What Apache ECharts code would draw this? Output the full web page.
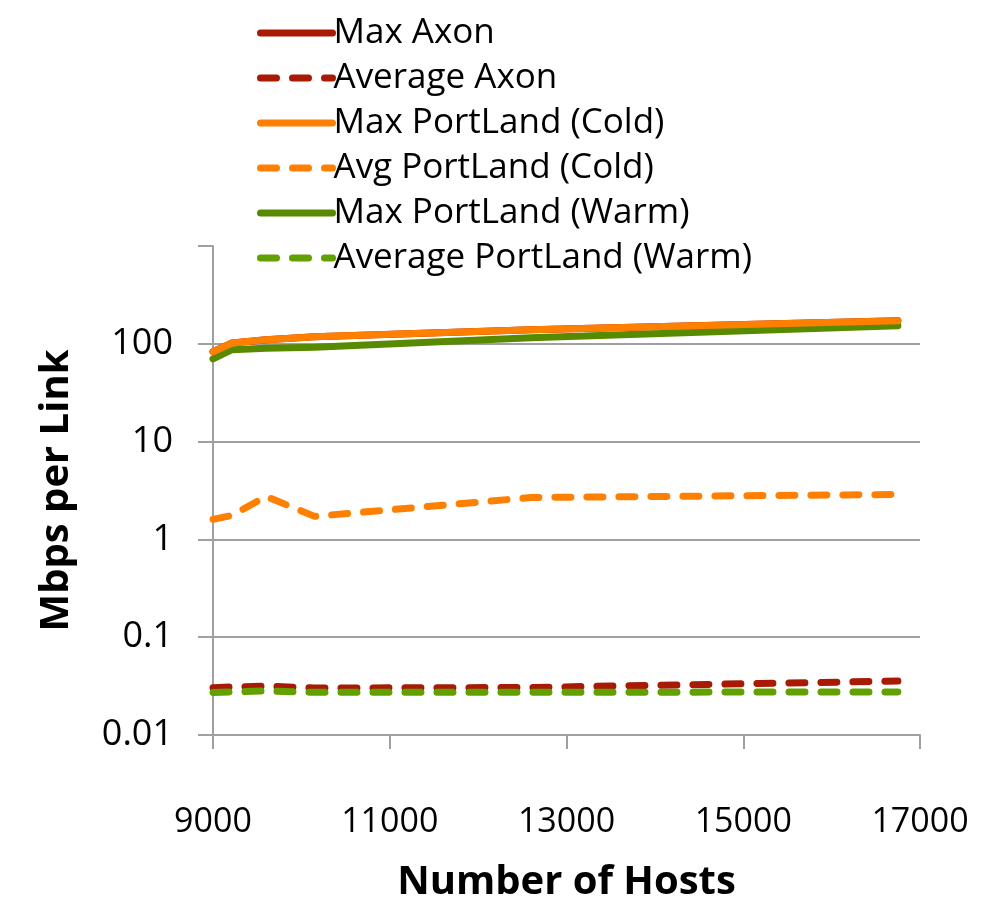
<!DOCTYPE html>
<html>
<head>
<meta charset="utf-8">
<script src="https://cdn.jsdelivr.net/npm/echarts@6/dist/echarts.min.js"></script>
<style>
  html, body { margin: 0; padding: 0; background: #fff; }
  #chart { width: 998px; height: 908px; }
</style>
</head>
<body>
<div id="chart"></div>
<script>
    // number of hosts (x positions of the points)
    let hosts = [9000, 9216, 9600, 10150, 12600, 16750]
    let maxAxon = [83, 102, 110, 118, 139, 172]
    let avgAxon = [0.0305, 0.031, 0.0316, 0.0302, 0.0306, 0.0356]
    let maxCold = [83, 102, 110, 118, 139, 172]
    let avgCold = [1.6, 1.76, 2.75, 1.72, 2.68, 2.88]
    let maxWarm = [70, 87, 90, 92, 115, 153]
    let avgWarm = [0.0272, 0.0276, 0.0282, 0.0273, 0.0273, 0.0276]
    let yTicks = [0.01, 0.1, 1, 10, 100]

    let font = '"Open Sans", "Noto Sans", sans-serif'
    let grey = '#a0a0a0'

    function pairs(vals) {
        let out = []
        for (let i = 0; i < hosts.length; i++) {
            out.push([hosts[i], vals[i]])
        }
        return out
    }

    function line(name, vals, color, dashed) {
        return {
            name: name,
            type: 'line',
            symbol: 'none',
            data: pairs(vals),
            lineStyle: {
                color: color,
                width: 7,
                type: dashed ? [16, 16] : 'solid',
                cap: 'round',
                join: 'round'
            },
            itemStyle: { color: color }
        }
    }

    let chart = echarts.init(document.getElementById('chart'))
    const option = {
        animation: false,
        backgroundColor: '#fff',
        textStyle: { fontFamily: font },
        legend: {
            orient: 'vertical',
            left: 252,
            top: 8,
            itemWidth: 72,
            itemHeight: 14,
            itemGap: 5,
            itemStyle: { opacity: 0 },
            lineStyle: { width: 7, cap: 'round' },
            textStyle: { fontSize: 35, color: '#000', fontFamily: font, lineHeight: 40, padding: [0, 0, 0, -4] },
            data: ['Max Axon', 'Average Axon', 'Max PortLand (Cold)', 'Avg PortLand (Cold)', 'Max PortLand (Warm)', 'Average PortLand (Warm)']
        },
        grid: { left: 213, right: 78, top: 246, bottom: 172 },
        xAxis: {
            type: 'value',
            min: 9000,
            max: 17000,
            interval: 2000,
            name: 'Number of Hosts',
            nameLocation: 'middle',
            nameGap: 128,
            nameTextStyle: { fontSize: 40, fontWeight: 'bold', color: '#000', fontFamily: font },
            axisLine: { lineStyle: { color: grey, width: 2 } },
            axisTick: { show: true, length: 14, lineStyle: { color: grey, width: 2 } },
            axisLabel: {
                fontSize: 34,
                color: '#000',
                margin: 70,
                fontFamily: font,
                formatter: function (v) { return String(v) }
            },
            splitLine: { show: false }
        },
        yAxis: {
            type: 'log',
            logBase: 10,
            min: 0.01,
            max: 1000,
            name: 'Mbps per Link',
            nameLocation: 'middle',
            nameGap: 136,
            nameTextStyle: { fontSize: 40, fontWeight: 'bold', color: '#000', fontFamily: font },
            axisLine: { show: true, lineStyle: { color: grey, width: 2 } },
            axisTick: { show: true, length: 15, lineStyle: { color: grey, width: 2 } },
            axisLabel: {
                fontSize: 36,
                color: '#000',
                margin: 40,
                fontFamily: font,
                formatter: function (v) {
                    for (let t of yTicks) {
                        if (Math.abs(v - t) / t < 1e-6) return String(t)
                    }
                    return ''
                }
            },
            splitLine: { show: true, lineStyle: { color: [grey, grey, grey, grey, grey, 'rgba(0,0,0,0)'], width: 2 } }
        },
        series: [
            line('Max Axon', maxAxon, '#a81a04', false),
            line('Average Axon', avgAxon, '#a81a04', true),
            line('Avg PortLand (Cold)', avgCold, '#ff8000', true),
            line('Average PortLand (Warm)', avgWarm, '#62a000', true),
            line('Max PortLand (Warm)', maxWarm, '#588a00', false),
            line('Max PortLand (Cold)', maxCold, '#ff8000', false)
        ]
    }
    chart.setOption(option)
</script>
</body>
</html>
